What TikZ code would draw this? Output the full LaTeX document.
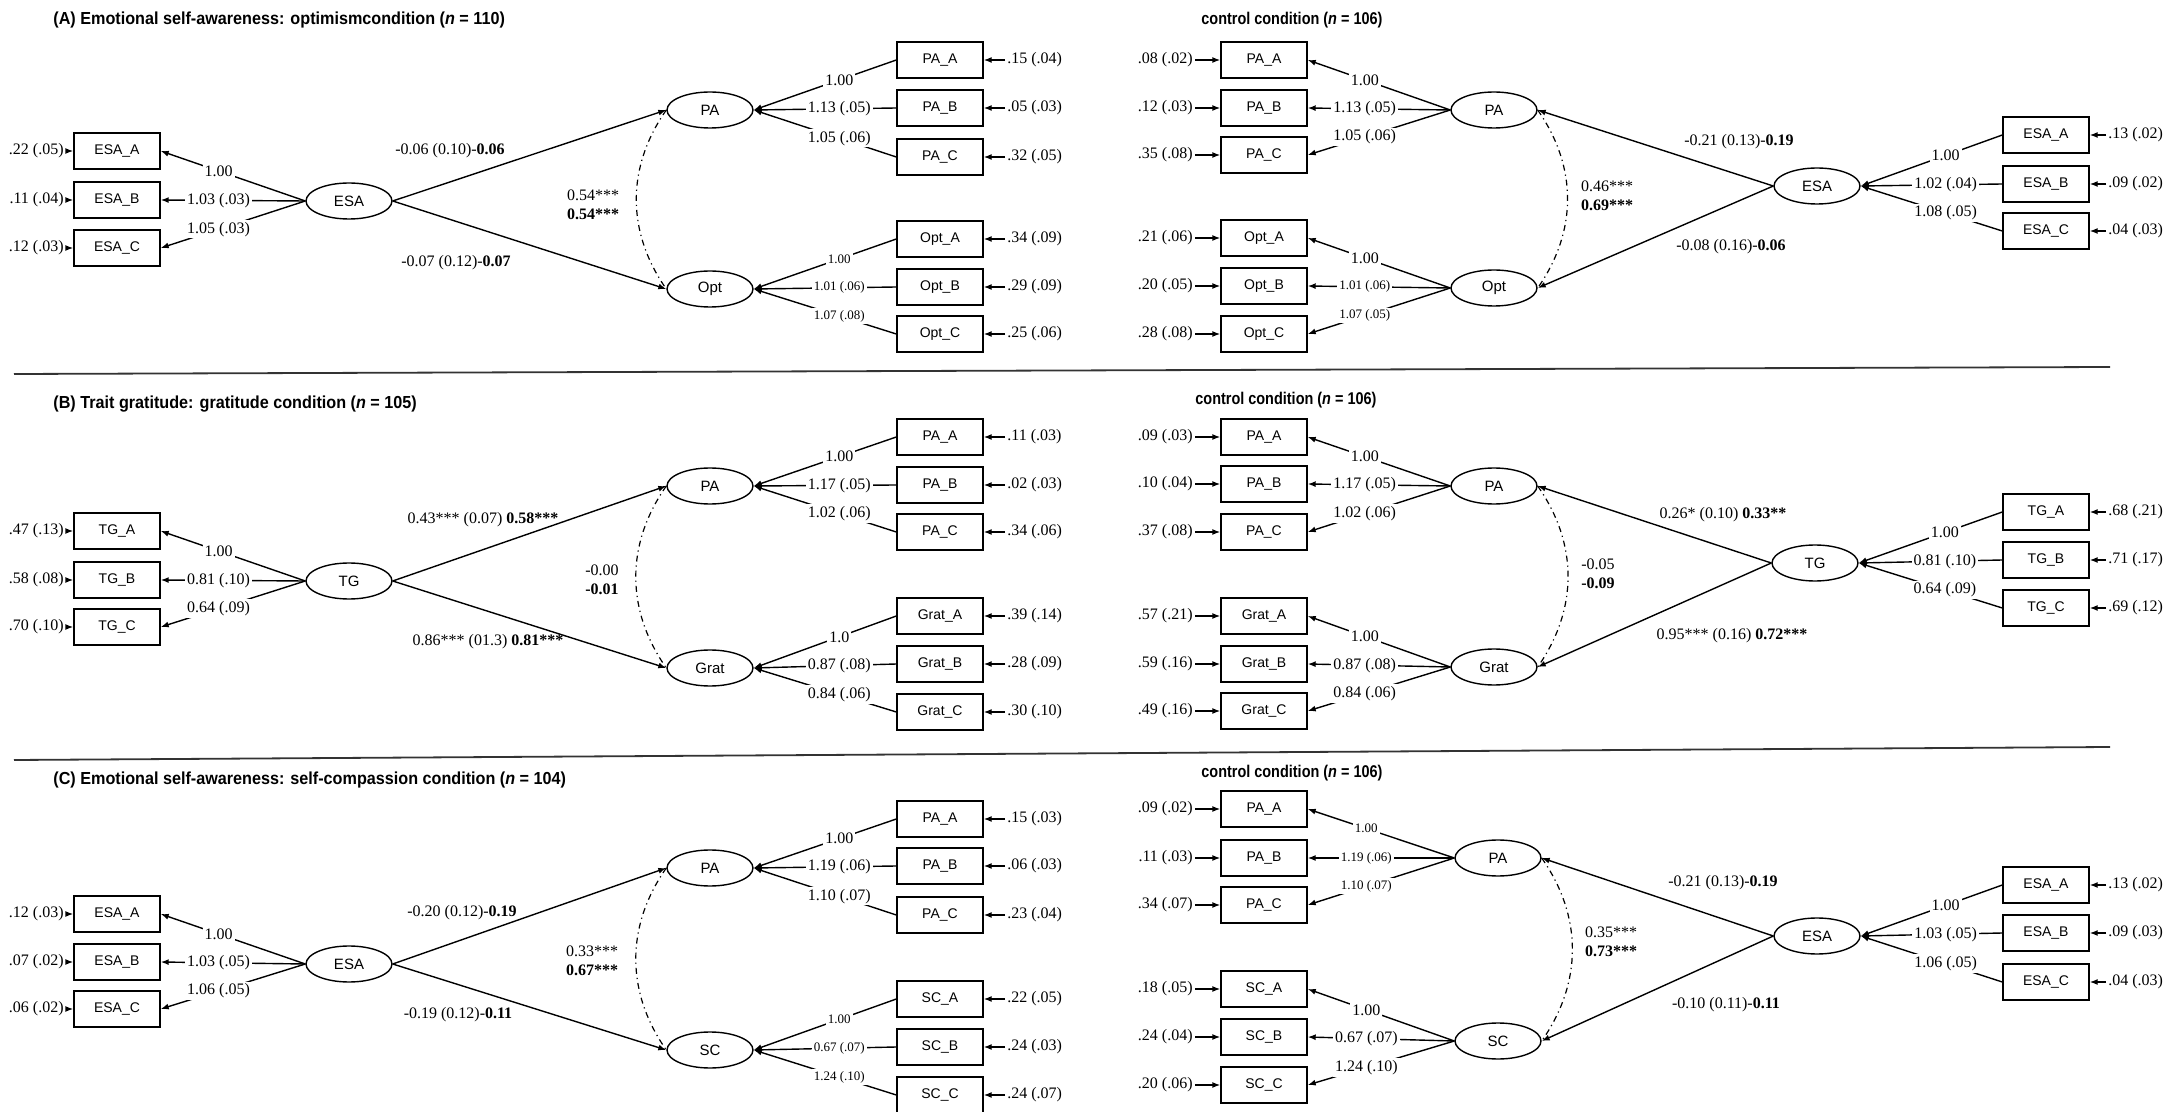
\documentclass[tikz,border=0pt]{standalone}
\usepackage{fontspec}
\setmainfont{Liberation Serif}
\newfontfamily\sansf{Liberation Sans}
\newfontfamily\narrowf[FakeStretch=0.85]{Liberation Sans}
\newfontfamily\widef[FakeStretch=0.93]{Liberation Sans}
\usetikzlibrary{arrows.meta,shapes.geometric}
\newcommand\numf{\fontsize{8}{9.5}\selectfont}
\newcommand\smallnum{\fontsize{6.5}{8}\selectfont}
\newcommand\boxf{\sansf\fontsize{7}{8}\selectfont}
\newcommand\latf{\sansf\fontsize{7.5}{9}\selectfont}
\newcommand\headf{\narrowf\bfseries\fontsize{8.5}{10}\selectfont}
\newcommand\panelf{\widef\bfseries\fontsize{8.7}{10}\selectfont}

\begin{document}
\begin{tikzpicture}[
  x=0.5pt, y=-0.5pt,
  ind/.style={draw, line width=0.7pt, minimum width=43pt, minimum height=18pt, inner sep=0pt, font=\boxf},
  lat/.style={draw, ellipse, line width=0.7pt, minimum width=43pt, minimum height=18pt, inner sep=0pt, font=\latf},
  ld/.style={fill=white, inner sep=1pt, font=\numf},
  err/.style={inner sep=1pt, font=\numf},
  est/.style={inner sep=1pt, font=\numf, align=left},
  ttl/.style={anchor=west, inner sep=0pt, font=\headf},
  pttl/.style={anchor=west, inner sep=0pt, font=\panelf},
  arr/.style={line width=0.7pt, -{Latex[length=4pt,width=3pt]}},
  cov/.style={line width=0.6pt, dash dot},
  sep/.style={line width=0.9pt, black!80}
]
\useasboundingbox (0,0) rectangle (2176,1112);

\node[pttl] (headA) at (53,20) {(A) Emotional self-awareness: optimismcondition (\textit{n} = 110)};
\node[ttl] (ctrlA) at (1201,20) {control condition (\textit{n} = 106)};
\node[pttl] (headB) at (53,404) {(B) Trait gratitude: gratitude condition (\textit{n} = 105)};
\node[ttl] (ctrlB) at (1195,400) {control condition (\textit{n} = 106)};
\node[pttl] (headC) at (53,780) {(C) Emotional self-awareness: self-compassion condition (\textit{n} = 104)};
\node[ttl] (ctrlC) at (1201,773) {control condition (\textit{n} = 106)};
\draw[sep] (14,374) -- (2110,367);
\draw[sep] (14,760) -- (2110,747);

\node[lat] (ALesa) at (349,201) {ESA};
\node[lat] (ALpa) at (710,110) {PA};
\node[lat] (ALopt) at (710,289) {Opt};
\node[lat] (ARpa) at (1494,110) {PA};
\node[lat] (ARopt) at (1494,288) {Opt};
\node[lat] (AResa) at (1817,186) {ESA};
\node[lat] (BLtg) at (349,581) {TG};
\node[lat] (BLpa) at (710,486) {PA};
\node[lat] (BLgrat) at (710,668) {Grat};
\node[lat] (BRpa) at (1494,486) {PA};
\node[lat] (BRgrat) at (1494,667) {Grat};
\node[lat] (BRtg) at (1815,563) {TG};
\node[lat] (CLesa) at (349,964) {ESA};
\node[lat] (CLpa) at (710,868) {PA};
\node[lat] (CLsc) at (710,1050) {SC};
\node[lat] (CRpa) at (1498,858) {PA};
\node[lat] (CRsc) at (1498,1041) {SC};
\node[lat] (CResa) at (1817,936) {ESA};

\foreach \lat/\nm/\t/\yy/\e/\l in {ALesa/ALx1/ESA\_A/151/.22 (.05)/1.00, ALesa/ALx2/ESA\_B/200/.11 (.04)/1.03 (.03), ALesa/ALx3/ESA\_C/248/.12 (.03)/1.05 (.03),
  BLtg/BLx1/TG\_A/531/.47 (.13)/1.00, BLtg/BLx2/TG\_B/580/.58 (.08)/0.81 (.10), BLtg/BLx3/TG\_C/627/.70 (.10)/0.64 (.09),
  CLesa/CLx1/ESA\_A/914/.12 (.03)/1.00, CLesa/CLx2/ESA\_B/962/.07 (.02)/1.03 (.05), CLesa/CLx3/ESA\_C/1009/.06 (.02)/1.06 (.05)}{
  \node[ind] (\nm) at (117,\yy) {\t};
  \node[err, anchor=east] (\nm e) at (66,\yy) {\e};
  \draw[arr] (\nm e) -- (\nm);
  \draw[arr] (\lat.west) -- node[ld, pos=0.6] (\nm l) {\l} (\nm.east);
}

\foreach \lat/\nm/\t/\yy/\e/\s/\l in {ALpa/ALp1/PA\_A/60/.15 (.04)/\numf/1.00, ALpa/ALp2/PA\_B/108/.05 (.03)/\numf/1.13 (.05), ALpa/ALp3/PA\_C/157/.32 (.05)/\numf/1.05 (.06),
  ALopt/ALo1/Opt\_A/239/.34 (.09)/\smallnum/1.00, ALopt/ALo2/Opt\_B/287/.29 (.09)/\smallnum/1.01 (.06), ALopt/ALo3/Opt\_C/334/.25 (.06)/\smallnum/1.07 (.08),
  BLpa/BLp1/PA\_A/437/.11 (.03)/\numf/1.00, BLpa/BLp2/PA\_B/485/.02 (.03)/\numf/1.17 (.05), BLpa/BLp3/PA\_C/532/.34 (.06)/\numf/1.02 (.06),
  BLgrat/BLg1/Grat\_A/616/.39 (.14)/\numf/1.0, BLgrat/BLg2/Grat\_B/664/.28 (.09)/\numf/0.87 (.08), BLgrat/BLg3/Grat\_C/712/.30 (.10)/\numf/0.84 (.06),
  CLpa/CLp1/PA\_A/819/.15 (.03)/\numf/1.00, CLpa/CLp2/PA\_B/866/.06 (.03)/\numf/1.19 (.06), CLpa/CLp3/PA\_C/915/.23 (.04)/\numf/1.10 (.07),
  CLsc/CLs1/SC\_A/999/.22 (.05)/\smallnum/1.00, CLsc/CLs2/SC\_B/1047/.24 (.03)/\smallnum/0.67 (.07), CLsc/CLs3/SC\_C/1095/.24 (.07)/\smallnum/1.24 (.10)}{
  \node[ind] (\nm) at (940,\yy) {\t};
  \node[err, anchor=west] (\nm e) at (1005,\yy) {\e};
  \draw[arr] (\nm e) -- (\nm);
  \draw[arr] (\nm.west) -- node[ld, pos=0.4] (\nm l) {\s\l} (\lat.east);
}

\foreach \lat/\nm/\t/\yy/\e/\s/\l in {ARpa/ARp1/PA\_A/60/.08 (.02)/\numf/1.00, ARpa/ARp2/PA\_B/108/.12 (.03)/\numf/1.13 (.05), ARpa/ARp3/PA\_C/155/.35 (.08)/\numf/1.05 (.06),
  ARopt/ARo1/Opt\_A/238/.21 (.06)/\numf/1.00, ARopt/ARo2/Opt\_B/286/.20 (.05)/\smallnum/1.01 (.06), ARopt/ARo3/Opt\_C/334/.28 (.08)/\smallnum/1.07 (.05),
  BRpa/BRp1/PA\_A/437/.09 (.03)/\numf/1.00, BRpa/BRp2/PA\_B/484/.10 (.04)/\numf/1.17 (.05), BRpa/BRp3/PA\_C/532/.37 (.08)/\numf/1.02 (.06),
  BRgrat/BRg1/Grat\_A/616/.57 (.21)/\numf/1.00, BRgrat/BRg2/Grat\_B/664/.59 (.16)/\numf/0.87 (.08), BRgrat/BRg3/Grat\_C/711/.49 (.16)/\numf/0.84 (.06),
  CRpa/CRp1/PA\_A/809/.09 (.02)/\smallnum/1.00, CRpa/CRp2/PA\_B/858/.11 (.03)/\smallnum/1.19 (.06), CRpa/CRp3/PA\_C/905/.34 (.07)/\smallnum/1.10 (.07),
  CRsc/CRs1/SC\_A/989/.18 (.05)/\numf/1.00, CRsc/CRs2/SC\_B/1037/.24 (.04)/\numf/0.67 (.07), CRsc/CRs3/SC\_C/1085/.20 (.06)/\numf/1.24 (.10)}{
  \node[ind] (\nm) at (1264,\yy) {\t};
  \node[err, anchor=east] (\nm e) at (1195,\yy) {\e};
  \draw[arr] (\nm e) -- (\nm);
  \draw[arr] (\lat.west) -- node[ld, pos=0.6] (\nm l) {\s\l} (\nm.east);
}

\foreach \lat/\nm/\t/\yy/\e/\l in {AResa/ARx1/ESA\_A/135/.13 (.02)/1.00, AResa/ARx2/ESA\_B/184/.09 (.02)/1.02 (.04), AResa/ARx3/ESA\_C/231/.04 (.03)/1.08 (.05),
  BRtg/BRx1/TG\_A/512/.68 (.21)/1.00, BRtg/BRx2/TG\_B/560/.71 (.17)/0.81 (.10), BRtg/BRx3/TG\_C/608/.69 (.12)/0.64 (.09),
  CResa/CRx1/ESA\_A/885/.13 (.02)/1.00, CResa/CRx2/ESA\_B/933/.09 (.03)/1.03 (.05), CResa/CRx3/ESA\_C/982/.04 (.03)/1.06 (.05)}{
  \node[ind] (\nm) at (2046,\yy) {\t};
  \node[err, anchor=west] (\nm e) at (2106,\yy) {\e};
  \draw[arr] (\nm e) -- (\nm);
  \draw[arr] (\nm.west) -- node[ld, pos=0.4] (\nm l) {\l} (\lat.east);
}

\foreach \a/\b in {ALesa/ALpa, ALesa/ALopt, BLtg/BLpa, BLtg/BLgrat, CLesa/CLpa, CLesa/CLsc}
  \draw[arr] (\a.east) -- (\b.west);
\foreach \a/\b in {AResa/ARpa, AResa/ARopt, BRtg/BRpa, BRtg/BRgrat, CResa/CRpa, CResa/CRsc}
  \draw[arr] (\a.west) -- (\b.east);
\foreach \a/\b in {ALpa/ALopt, BLpa/BLgrat, CLpa/CLsc}
  \draw[cov] (\a.west) to[bend right=35] (\b.west);
\foreach \a/\b in {ARpa/ARopt, BRpa/BRgrat, CRpa/CRsc}
  \draw[cov] (\a.east) to[bend left=35] (\b.east);

\node[est] (ALs1) at (450,151) {-0.06 (0.10)-\textbf{0.06}};
\node[est] (ALs2) at (456,263) {-0.07 (0.12)-\textbf{0.07}};
\node[est] (ALc) at (593,205) {0.54***\\\textbf{0.54***}};
\node[est] (ARs1) at (1739,142) {-0.21 (0.13)-\textbf{0.19}};
\node[est] (ARs2) at (1731,247) {-0.08 (0.16)-\textbf{0.06}};
\node[est] (ARc) at (1607,196) {0.46***\\\textbf{0.69***}};
\node[est] (BLs1) at (483,520) {0.43*** (0.07) \textbf{0.58***}};
\node[est] (BLs2) at (488,642) {0.86*** (01.3) \textbf{0.81***}};
\node[est] (BLc) at (602,580) {-0.00\\\textbf{-0.01}};
\node[est] (BRs1) at (1723,515) {0.26* (0.10) \textbf{0.33**}};
\node[est] (BRs2) at (1732,636) {0.95*** (0.16) \textbf{0.72***}};
\node[est] (BRc) at (1598,574) {-0.05\\\textbf{-0.09}};
\node[est] (CLs1) at (462,913) {-0.20 (0.12)-\textbf{0.19}};
\node[est] (CLs2) at (458,1015) {-0.19 (0.12)-\textbf{0.11}};
\node[est] (CLc) at (592,961) {0.33***\\\textbf{0.67***}};
\node[est] (CRs1) at (1723,883) {-0.21 (0.13)-\textbf{0.19}};
\node[est] (CRs2) at (1726,1005) {-0.10 (0.11)-\textbf{0.11}};
\node[est] (CRc) at (1611,942) {0.35***\\\textbf{0.73***}};
\end{tikzpicture}
\end{document}
